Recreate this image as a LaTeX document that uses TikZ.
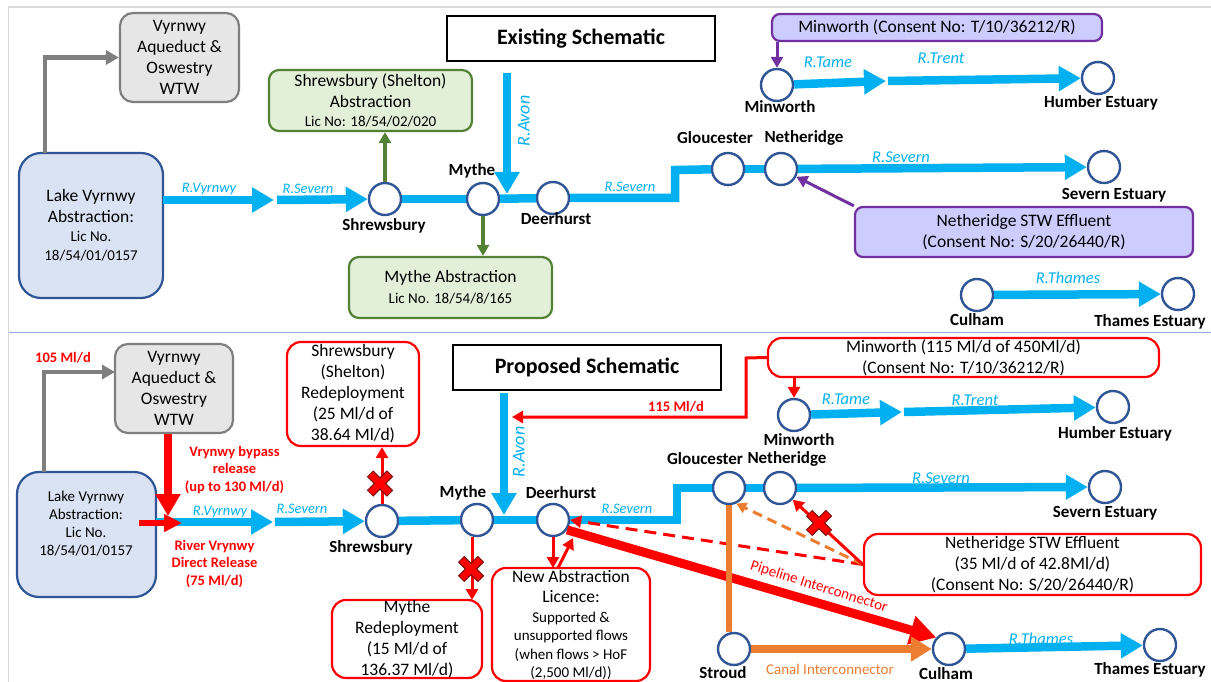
\documentclass[tikz,border=0pt]{standalone}
\usepackage{fontspec}
\setmainfont{Carlito}
\usetikzlibrary{arrows.meta}
\definecolor{riverblue}{HTML}{00B0F0}
\definecolor{circblue}{HTML}{2F5597}
\definecolor{lakefill}{HTML}{DAE3F3}
\definecolor{greyline}{HTML}{7F7F7F}
\definecolor{greyfill}{HTML}{E7E6E6}
\definecolor{greenline}{HTML}{548235}
\definecolor{greenfill}{HTML}{E2F0D9}
\definecolor{purpline}{HTML}{7030A0}
\definecolor{purpfill}{HTML}{CCCCFF}
\definecolor{redline}{HTML}{FF0000}
\definecolor{orangeline}{HTML}{ED7D31}
\definecolor{sepline}{HTML}{8FAADC}
\definecolor{frameline}{HTML}{D9D9D9}
\definecolor{xout}{HTML}{7A1010}
\newcommand{\myfs}[2]{\fontsize{#1}{#2}\selectfont}
\tikzset{
  station/.style={circle, draw=circblue, line width=2.4pt, fill=white, minimum size=32pt, inner sep=0pt},
  lbl/.style={font=\bfseries\myfs{17}{20}, inner sep=0pt},
  rlbl/.style={font=\itshape\myfs{14.5}{17}, text=riverblue, inner sep=0pt},
  rlblb/.style={font=\itshape\myfs{16.5}{19}, text=riverblue, inner sep=0pt},
  avonlbl/.style={font=\itshape\myfs{18}{21}, text=riverblue, inner sep=0pt, rotate=90},
  redlbl/.style={font=\bfseries\myfs{14.5}{17.5}, text=redline, inner sep=0pt, align=center},
  river/.style={draw=riverblue, line width=8.5pt, line join=miter},
  riverar/.style={river, -{Triangle[length=22pt,width=24pt]}},
  box/.style={line width=2.2pt, align=center, font=\myfs{17.5}{21}, inner sep=0pt},
  greybox/.style={box, rounded corners=13pt, draw=greyline, fill=greyfill},
  lakebox/.style={box, rounded corners=22pt, draw=circblue, fill=lakefill},
  greenbox/.style={box, rounded corners=10pt, draw=greenline, fill=greenfill},
  purpbox/.style={box, rounded corners=8pt, draw=purpline, fill=purpfill},
  redbox/.style={box, rounded corners=14pt, draw=redline, fill=white},
  titlebox/.style={box, draw=black, line width=2.6pt, font=\bfseries\myfs{22}{26}},
  greyarrow/.style={draw=greyline, line width=4.5pt, -{Triangle[length=13pt,width=14pt]}},
  greenarrow/.style={draw=greenline, line width=3.5pt, -{Triangle[length=11pt,width=12pt]}},
  purparrow/.style={draw=purpline, line width=3pt, -{Triangle[length=11pt,width=12pt]}},
  redarrow/.style={draw=redline, line width=3pt, -{Triangle[length=11pt,width=12pt]}},
  redbig/.style={draw=redline, line width=7.5pt, -{Triangle[length=22pt,width=24pt]}},
  reddash/.style={draw=redline, line width=3pt, dash pattern=on 12pt off 7pt, -{Triangle[length=11pt,width=12pt]}},
  orangedash/.style={draw=orangeline, line width=3pt, dash pattern=on 10pt off 6pt, -{Triangle[length=10pt,width=11pt]}},
  pipe/.style={draw=redline, line width=9pt, -{Triangle[length=26pt,width=28pt]}},
  canal/.style={draw=orangeline, line width=8pt, -{Triangle[length=21pt,width=24pt]}},
  xmark/.pic={
    \draw[xout, line width=9pt] (-10,-10) -- (10,10) (-10,10) -- (10,-10);
    \draw[redline, line width=6.5pt] (-9.3,-9.3) -- (9.3,9.3) (-9.3,9.3) -- (9.3,-9.3);
  }
}
\begin{document}
\begin{tikzpicture}[x=1pt,y=-1pt]
\useasboundingbox (0,0) rectangle (1211,682);
\fill[white] (0,0) rectangle (1211,682);
% frame
\draw[frameline, line width=1.5pt] (8.5,682) -- (8.5,7) -- (1211,7);
\draw[sepline, line width=1.2pt] (8.5,332.5) -- (1211,332.5);

%================ EXISTING =================
\node[titlebox, minimum width=268pt, minimum height=45pt] (exist) at (581,38.5) {Existing Schematic};
\node[greybox, minimum width=119pt, minimum height=89pt] (aq1) at (179.5,57.5) {Vyrnwy\\Aqueduct \&\\Oswestry\\WTW};
\node[lakebox, minimum width=144pt, minimum height=145pt] (lake1) at (91,225.5) {Lake Vyrnwy\\Abstraction:\\[-2pt]{\myfs{15}{19}Lic No.}\\[-2pt]{\myfs{15}{19}18/54/01/0157}};
\node[greenbox, minimum width=203pt, minimum height=61pt] (shel1) at (370.5,100.5) {Shrewsbury (Shelton)\\Abstraction\\[-2pt]{\myfs{15}{18}Lic No: 18/54/02/020}};
\node[greenbox, minimum width=203pt, minimum height=61pt] (mythebox1) at (450.5,287.5) {Mythe Abstraction\\{\myfs{15}{18}Lic No. 18/54/8/165}};
\node[purpbox, minimum width=330pt, minimum height=27pt] (minbox1) at (937,27.5) {Minworth (Consent No: T/10/36212/R)};
\node[purpbox, minimum width=338pt, minimum height=50pt] (nethbox1) at (1024,232) {Netheridge STW Effluent\\(Consent No: S/20/26440/R)};

\node[station] (shrew1) at (385,199) {};
\node[station] (mythe1) at (483,199) {};
\node[station] (deer1) at (553,198) {};
\node[station] (glou1) at (728,169) {};
\node[station] (neth1) at (781,169) {};
\node[station] (sevest1) at (1104,167) {};
\node[station] (min1) at (777,85) {};
\node[station] (humb1) at (1098,78) {};
\node[station] (cul1) at (977,295) {};
\node[station] (thest1) at (1178,294) {};

\coordinate (v1a) at (163,200);
\coordinate (v1b) at (274,200);
\coordinate (s1a) at (277,200);
\coordinate (av1a) at (507,73);
\coordinate (av1b) at (507,194);
\coordinate (b1a) at (675,198);
\coordinate (b1b) at (675,170);
\coordinate (t1a) at (886,81);
\coordinate (t1b) at (888,81);
\coordinate (g1a) at (45,153);

\draw[riverar] (v1a) -- (v1b);
\draw[riverar] (s1a) -- (shrew1);
\draw[river] (shrew1) -- (mythe1);
\draw[river] (mythe1) -- (deer1);
\draw[river] (deer1) -- (b1a) -- (b1b) -- (glou1);
\draw[river] (glou1) -- (neth1);
\draw[riverar] (neth1) -- (sevest1);
\draw[riverar] (av1a) -- (av1b);
\draw[riverar] (min1) -- (t1a);
\draw[riverar] (t1b) -- (humb1);
\draw[riverar] (cul1) -- (thest1);

\draw[greyarrow] (g1a) |- (aq1.west);
\draw[greenarrow] (shrew1.north) -- (shrew1.north |- shel1.south);
\draw[greenarrow] (mythe1.south) -- (mythe1.south |- mythebox1.north);
\draw[purparrow] (min1.north |- minbox1.south) -- (min1.north);
\draw[purparrow] (nethbox1.north west) -- (neth1);

\node[rlbl] (l1) at (209,189) {R.Vyrnwy};
\node[rlbl] (l2) at (308,189) {R.Severn};
\node[rlbl] (l3) at (630,187) {R.Severn};
\node[rlblb] (l4) at (901,157) {R.Severn};
\node[rlblb] (l5) at (828,62) {R.Tame};
\node[rlblb] (l6) at (941,58) {R.Trent};
\node[rlblb] (l7) at (1068,278) {R.Thames};
\node[avonlbl] (l8) at (524,121) {R.Avon};

\node[lbl] (n1) at (384,226) {Shrewsbury};
\node[lbl] (n2) at (472,171) {Mythe};
\node[lbl] (n3) at (556,219) {Deerhurst};
\node[lbl] (n4) at (715,138) {Gloucester};
\node[lbl] (n5) at (804,138) {Netheridge};
\node[lbl] (n6) at (780,107) {Minworth};
\node[lbl] (n7) at (1101,103) {Humber Estuary};
\node[lbl] (n8) at (1114,195) {Severn Estuary};
\node[lbl] (n9) at (977,320) {Culham};
\node[lbl] (n10) at (1150,322) {Thames Estuary};

%================ PROPOSED =================
\node[titlebox, minimum width=268pt, minimum height=45pt] (prop) at (587,367.5) {Proposed Schematic};
\node[greybox, minimum width=118pt, minimum height=89pt] (aq2) at (174,388.5) {Vyrnwy\\Aqueduct \&\\Oswestry\\WTW};
\node[lakebox, minimum width=139pt, minimum height=125pt] (lake2) at (86.5,534.5) {};
\node[align=center, inner sep=0pt, font=\myfs{15}{18}] (lake2t) at (86,524) {Lake Vyrnwy\\Abstraction:\\Lic No.\\18/54/01/0157};
\node[redbox, minimum width=132pt, minimum height=104pt] (shel2) at (353,394) {Shrewsbury\\(Shelton)\\Redeployment\\(25 Ml/d of\\38.64 Ml/d)};
\node[redbox, minimum width=150pt, minimum height=78pt] (mythebox2) at (407,639) {Mythe\\Redeployment\\(15 Ml/d of\\136.37 Ml/d)};
\node[redbox, minimum width=158pt, minimum height=113pt] (newab) at (571,624.5) {};
\node[align=center, inner sep=0pt, font=\myfs{15}{18.5}] (newabt) at (571,625) {{\myfs{17.5}{21}New Abstraction}\\[2pt]{\myfs{17.5}{21}Licence:}\\[1pt]Supported \&\\unsupported flows\\(when flows > HoF\\(2,500 Ml/d))};
\node[redbox, minimum width=391pt, minimum height=39pt] (minbox2) at (963.5,357.5) {Minworth (115 Ml/d of 450Ml/d)\\(Consent No: T/10/36212/R)};
\node[redbox, minimum width=337pt, minimum height=61pt] (nethbox2) at (1032.5,564.5) {Netheridge STW Effluent\\(35 Ml/d of 42.8Ml/d)\\(Consent No: S/20/26440/R)};

\node[station] (shrew2) at (382,521) {};
\node[station] (mythe2) at (477,520) {};
\node[station] (deer2) at (553,520) {};
\node[station] (glou2) at (729,488) {};
\node[station] (neth2) at (780,488) {};
\node[station] (sevest2) at (1105,487) {};
\node[station] (min2) at (794,415) {};
\node[station] (humb2) at (1113,407) {};
\node[station] (cul2) at (949,649) {};
\node[station] (thest2) at (1160,645) {};
\node[station] (stroud) at (734,649) {};

\coordinate (v2a) at (156,522);
\coordinate (v2b) at (273,522);
\coordinate (s2a) at (275,522);
\coordinate (av2a) at (504,393);
\coordinate (av2b) at (504,515);
\coordinate (b2a) at (677,520);
\coordinate (b2b) at (677,488);
\coordinate (t2a) at (902,412);
\coordinate (t2b) at (904,412);
\coordinate (g2a) at (44,472);
\coordinate (g2b) at (115,372);
\coordinate (bp1) at (168,434);
\coordinate (bp2) at (168,516);
\coordinate (dr1) at (139,523);
\coordinate (dr2) at (182,523);
\coordinate (my2a) at (472,537);
\coordinate (my2b) at (472,600);
\coordinate (dd1) at (553,568);
\coordinate (du1) at (558,568);
\coordinate (du2) at (573,538);
\coordinate (m1) at (746,358);
\coordinate (m2) at (746,417);
\coordinate (m3) at (512,417);

\draw[riverar] (v2a) -- (v2b);
\draw[riverar] (s2a) -- (shrew2);
\draw[river] (shrew2) -- (mythe2);
\draw[river] (mythe2) -- (deer2);
\draw[river] (deer2) -- (b2a) -- (b2b) -- (glou2);
\draw[river] (glou2) -- (neth2);
\draw[riverar] (neth2) -- (sevest2);
\draw[riverar] (av2a) -- (av2b);
\draw[riverar] (min2) -- (t2a);
\draw[riverar] (t2b) -- (humb2);
\draw[riverar] (cul2) -- (thest2);

\draw[greyarrow] (g2a) |- (g2b);
\draw[redbig] (bp1) -- (bp2);
\draw[draw=redline, line width=6pt, -{Triangle[length=18pt,width=17pt]}] (dr1) -- (dr2);
\draw[redarrow] (shrew2.north) -- (shrew2.north |- shel2.south);
\draw[redarrow] (my2a) -- (my2b);
\draw[redarrow] (deer2.south) -- (dd1);
\draw[redarrow] (du1) -- (du2);
\draw[redarrow] (minbox2.west) -- (m1) -- (m2) -- (m3);
\draw[redarrow] (min2.north |- minbox2.south) -- (min2.north);
\draw[reddash] (nethbox2.west) -- (deer2.east);
\draw[pipe] (deer2.-35) -- (cul2.138);
\draw[draw=orangeline, line width=6pt] (glou2.south) -- (glou2.south |- stroud.north);
\draw[orangedash] (nethbox2.west) -- (glou2.-65);
\draw[redarrow] (nethbox2.west) -- (neth2);
\draw[canal] (stroud) -- (cul2);

\pic at (380,483.5) {xmark};
\pic at (471,569) {xmark};
\pic at (819,523) {xmark};

\node[rlbl] (k1) at (220,512) {R.Vyrnwy};
\node[rlbl] (k2) at (302,509) {R.Severn};
\node[rlbl] (k3) at (627,509) {R.Severn};
\node[rlblb] (k4) at (941,478) {R.Severn};
\node[rlblb] (k5) at (846,399) {R.Tame};
\node[rlblb] (k6) at (975,400) {R.Trent};
\node[rlblb] (k7) at (1041,639) {R.Thames};
\node[avonlbl] (k8) at (519,452) {R.Avon};

\node[lbl] (p1) at (371,548) {Shrewsbury};
\node[lbl] (p2) at (463,493) {Mythe};
\node[lbl] (p3) at (561,493) {Deerhurst};
\node[lbl] (p4) at (705,459) {Gloucester};
\node[lbl] (p5) at (787,459) {Netheridge};
\node[lbl] (p6) at (799,440) {Minworth};
\node[lbl] (p7) at (1115,434) {Humber Estuary};
\node[lbl] (p8) at (1105,513) {Severn Estuary};
\node[lbl] (p9) at (946,674) {Culham};
\node[lbl] (p10) at (1150,670) {Thames Estuary};
\node[lbl] (p11) at (723,673) {Stroud};

\node[redlbl] (r1) at (63,358) {105 Ml/d};
\node[redlbl] (r2) at (234.5,470) {Vrynwy bypass\\release\\(up to 130 Ml/d)};
\node[redlbl] (r3) at (214.5,564) {River Vrynwy\\Direct Release\\(75 Ml/d)};
\node[redlbl] (r4) at (676,407) {115 Ml/d};
\node[font=\myfs{15}{18}, text=redline, inner sep=0pt, rotate=-17.5] (r5) at (819,587) {Pipeline Interconnector};
\node[font=\myfs{15}{18}, text=orangeline, inner sep=0pt] (r6) at (830,669) {Canal Interconnector};
\end{tikzpicture}
\end{document}
